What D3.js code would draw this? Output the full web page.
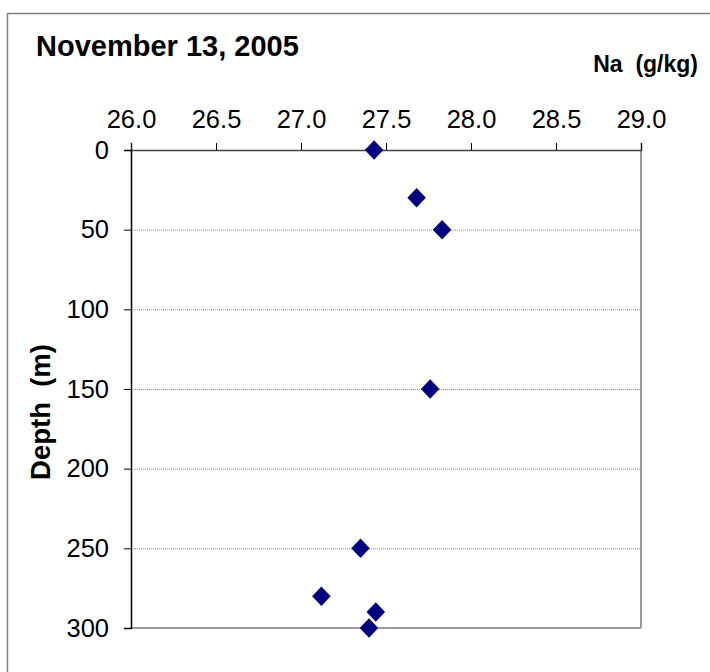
<!DOCTYPE html>
<html><head><meta charset="utf-8">
<script src="https://cdn.jsdelivr.net/npm/d3@7"></script>
<style>body{margin:0;background:#fff;} svg{display:block;}</style>
</head><body>
<script>
const titleText = "November 13, 2005";
const xAxisTitle = "Na  (g/kg)";
const yAxisTitle = "Depth  (m)";
const naValues = [27.43, 27.68, 27.83, 27.76, 27.35, 27.12, 27.44, 27.40];
const depths   = [0, 30, 50, 150, 250, 280, 290, 300];
const xTicks = [26.0, 26.5, 27.0, 27.5, 28.0, 28.5, 29.0];
const yTicks = [0, 50, 100, 150, 200, 250, 300];

(function () {
const W = 710, H = 672;
const svg = d3.select("body").append("svg").attr("width", W).attr("height", H);
const font = "'Liberation Sans', Arial, sans-serif";

// outer frame
svg.append("rect").attr("x", 7.5).attr("y", 13.5).attr("width", 720).attr("height", 700)
  .attr("fill", "none").attr("stroke", "#808080").attr("stroke-width", 1.5);

const pL = 131, pR = 641, pT = 150, pB = 628;
const x = d3.scaleLinear().domain([26, 29]).range([pL, pR]);
const y = d3.scaleLinear().domain([0, 300]).range([pT, pB]);

// gridlines
svg.append("g").selectAll("line").data(yTicks.filter(d => d > 0 && d < 300)).join("line")
  .attr("x1", pL).attr("x2", pR).attr("y1", d => y(d) + 0.5).attr("y2", d => y(d) + 0.5)
  .attr("stroke", "#8a8a8a").attr("stroke-width", 1).attr("stroke-dasharray", "1,1");

// plot border right and bottom (gray)
svg.append("line").attr("x1", pR).attr("x2", pR).attr("y1", pT).attr("y2", pB)
  .attr("stroke", "#9a9a9a").attr("stroke-width", 2);
svg.append("line").attr("x1", pL).attr("x2", pR).attr("y1", pB).attr("y2", pB)
  .attr("stroke", "#9a9a9a").attr("stroke-width", 2);

// axes
const xAxis = d3.axisTop(x).tickValues(xTicks).tickFormat(d3.format(".1f")).tickSizeOuter(0).tickSize(7).tickPadding(15);
const gx = svg.append("g").attr("transform", `translate(0,${pT})`).call(xAxis);
gx.select(".domain").attr("stroke", "#444").attr("stroke-width", 1.5);
gx.selectAll(".tick line").attr("stroke", "#000");
gx.selectAll("text").attr("font-family", font).attr("font-size", 25.5).attr("fill", "#000");

const yAxis = d3.axisLeft(y).tickValues(yTicks).tickSizeOuter(0).tickSize(7).tickPadding(15);
const gy = svg.append("g").attr("transform", `translate(${pL},0)`).call(yAxis);
gy.select(".domain").attr("stroke", "#000").attr("stroke-width", 1.5);
gy.selectAll(".tick line").attr("stroke", "#000");
gy.selectAll("text").attr("font-family", font).attr("font-size", 25.5).attr("fill", "#000");

// points
const diamond = d3.symbol().type(d3.symbolDiamond2).size(220);
svg.append("g").selectAll("path").data(naValues.map((v, i) => ({v, d: depths[i]}))).join("path")
  .attr("d", diamond)
  .attr("transform", p => `translate(${x(p.v)},${y(p.d)}) scale(1,1.05)`)
  .attr("fill", "#000080");

// titles
svg.append("text").attr("x", 36).attr("y", 56).text(titleText)
  .attr("font-family", font).attr("font-size", 29).attr("font-weight", "bold");
svg.append("text").attr("x", 698).attr("y", 72).attr("text-anchor", "end").text(xAxisTitle)
  .attr("font-family", font).attr("font-size", 23).attr("font-weight", "bold")
  .style("white-space", "pre");
svg.append("text").attr("transform", "translate(50,412) rotate(-90)").attr("text-anchor", "middle")
  .text(yAxisTitle).attr("font-family", font).attr("font-size", 27.5).attr("font-weight", "bold")
  .style("white-space", "pre");
})();
</script>
</body></html>
